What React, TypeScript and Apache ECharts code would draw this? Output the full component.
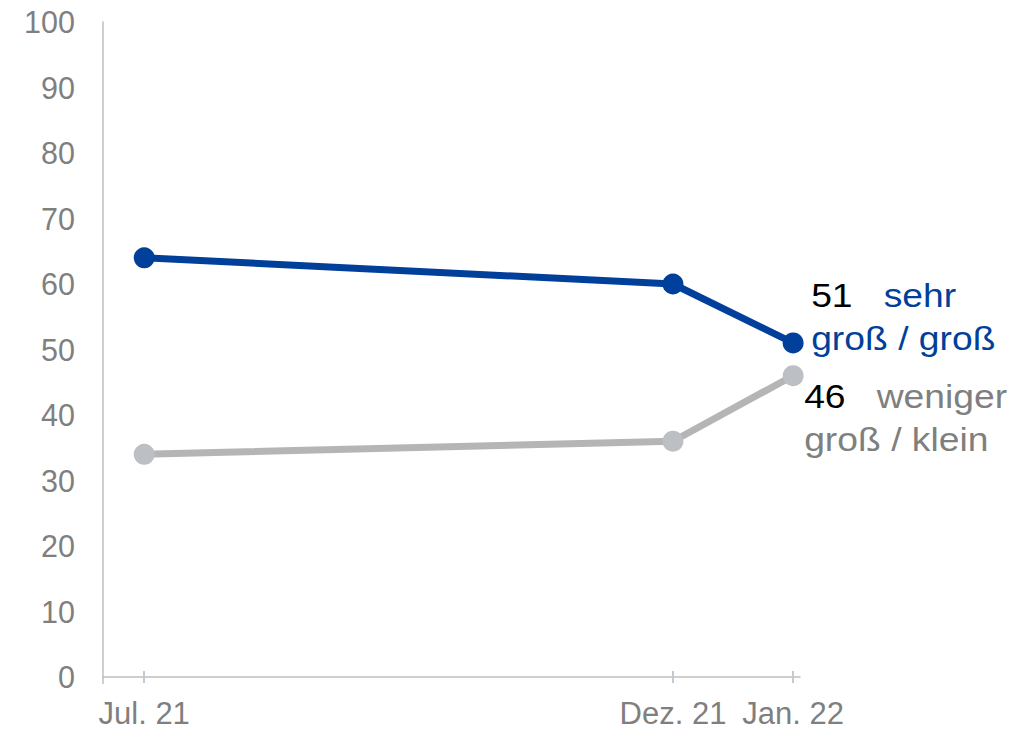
import React, { useEffect, useRef } from "react";
import * as echarts from "echarts";

const categories = ["Jul. 21", "Dez. 21", "Jan. 22"];
const surveyDates = ["2021-07-12", "2021-12-13", "2022-01-17"];
const axisStart = "2021-06-30";
const axisEnd = "2022-01-19";
const sehrGross = [64, 60, 51];
const wenigerGross = [34, 36, 46];
const sehrLabel = ["sehr", "groß / groß"];
const wenigerLabel = ["weniger", "groß / klein"];
const yTicks = [0, 100, 10]; // min, max, interval

const FONT = "'Liberation Sans', Arial, Helvetica, sans-serif";
const BLUE = "#003f9a";
const GRAY_LINE = "#b5b5b5";
const GRAY_DOT = "#bcc0c5";
const AXIS_GRAY = "#bfbfbf";
const TICK_GRAY = "#c3cad2";
const TEXT_GRAY = "#7f7f7f";

const toDay = (d: string) => Date.parse(d + "T00:00:00Z") / 86400000;

export default function App() {
  const ref = useRef<HTMLDivElement>(null);

  useEffect(() => {
    if (!ref.current) return;
    const chart = echarts.init(ref.current, null, { renderer: "svg" });
    const xs = surveyDates.map(toDay);
    const xMin = toDay(axisStart);
    const xMax = toDay(axisEnd);
    const last = xs.length - 1;

    const baseX = {
      type: "value",
      min: xMin,
      max: xMax,
      splitLine: { show: false },
    };

    chart.setOption({
      animation: false,
      backgroundColor: "#ffffff",
      grid: { left: 103, right: 233, top: 22, bottom: 54, containLabel: false },
      xAxis: [
        {
          ...baseX,
          axisLine: { show: true, lineStyle: { color: AXIS_GRAY, width: 1.5 } },
          axisTick: {
            show: true,
            customValues: xs,
            length: 6,
            lineStyle: { color: TICK_GRAY, width: 2 },
          },
          axisLabel: {
            show: true,
            customValues: xs,
            margin: 21,
            color: TEXT_GRAY,
            fontSize: 31,
            fontFamily: FONT,
            formatter: (val: number) => {
              const idx = xs.findIndex((x) => Math.abs(x - val) < 1e-6);
              return idx >= 0 ? categories[idx] : "";
            },
          },
        },
        {
          ...baseX,
          position: "bottom",
          axisLine: { show: false },
          axisTick: {
            show: true,
            inside: true,
            customValues: xs,
            length: 6,
            lineStyle: { color: TICK_GRAY, width: 2 },
          },
          axisLabel: { show: false },
        },
        {
          ...baseX,
          position: "bottom",
          axisLine: { show: false },
          axisTick: {
            show: true,
            customValues: [xMin],
            length: 7,
            lineStyle: { color: AXIS_GRAY, width: 1.5 },
          },
          axisLabel: { show: false },
        },
      ],
      yAxis: {
        type: "value",
        min: yTicks[0],
        max: yTicks[1],
        interval: yTicks[2],
        axisLine: { show: true, lineStyle: { color: AXIS_GRAY, width: 1.5 } },
        axisTick: { show: false },
        splitLine: { show: false },
        axisLabel: {
          color: TEXT_GRAY,
          fontSize: 30.5,
          fontFamily: FONT,
          margin: 28,
        },
      },
      series: [
        {
          name: "weniger groß / klein",
          type: "line",
          data: wenigerGross.map((v, i) => [xs[i], v]),
          lineStyle: { color: GRAY_LINE, width: 7 },
          itemStyle: { color: GRAY_DOT },
          symbol: "circle",
          symbolSize: 21,
          showSymbol: true,
          z: 2,
        },
        {
          name: "sehr groß / groß",
          type: "line",
          data: sehrGross.map((v, i) => [xs[i], v]),
          lineStyle: { color: BLUE, width: 7 },
          itemStyle: { color: BLUE },
          symbol: "circle",
          symbolSize: 21,
          showSymbol: true,
          z: 3,
        },
      ],
    });

    const pBlue = chart.convertToPixel({ seriesIndex: 1 }, [xs[last], sehrGross[last]]) as number[];
    const pGray = chart.convertToPixel({ seriesIndex: 0 }, [xs[last], wenigerGross[last]]) as number[];
    const FS = 33;
    const LH = 43;
    const SX = 1.13;
    const mkLabel = (p: number[], dx: number, dy: number, num: number, words: string[], color: string) => ({
      type: "group",
      x: p[0] + dx,
      y: p[1] + dy,
      scaleX: SX,
      children: [
        {
          type: "text",
          x: 0,
          y: 0,
          style: {
            text: "{n|" + num + "}{t|   " + words[0] + "}\n{t|" + words[1] + "}",
            verticalAlign: "top",
            align: "left",
            rich: {
              n: { fill: "#000000", fontSize: FS, fontFamily: FONT, lineHeight: LH },
              t: { fill: color, fontSize: FS, fontFamily: FONT, lineHeight: LH },
            },
          },
        },
      ],
    });

    chart.setOption({
      graphic: [
        mkLabel(pBlue, 18, -48 - LH / 2, sehrGross[last], sehrLabel, BLUE),
        mkLabel(pGray, 11, 21 - LH / 2, wenigerGross[last], wenigerLabel, TEXT_GRAY),
      ],
    });

    return () => chart.dispose();
  }, []);

  return (
    <div
      ref={ref}
      style={{ position: "fixed", left: 0, top: 0, width: 1033, height: 731, background: "#fff" }}
    />
  );
}
